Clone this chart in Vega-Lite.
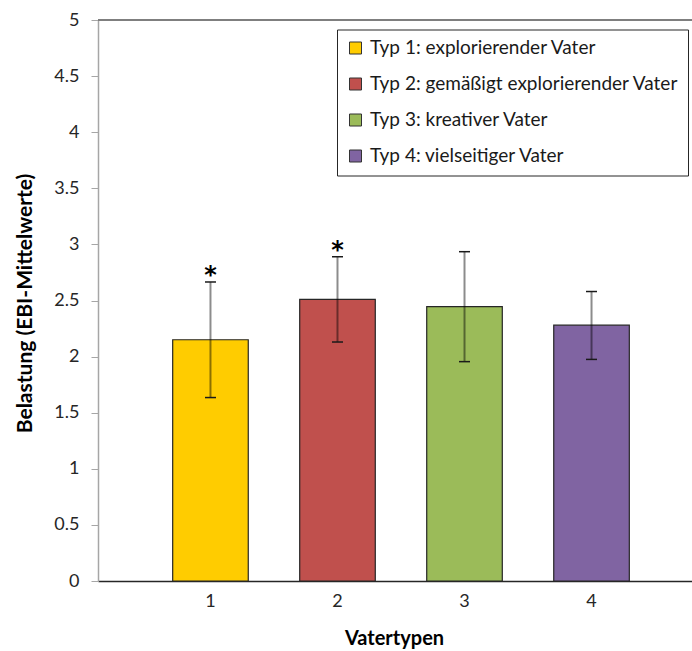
{
  "$schema": "https://vega.github.io/schema/vega-lite/v6.json",
  "width": 594,
  "height": 561,
  "autosize": {"type": "none"},
  "padding": {"left": 98, "top": 20, "right": 0, "bottom": 70},
  "background": "white",
  "config": {
    "view": {"stroke": null},
    "font": "Lato"
  },
  "data": {
    "values": [
      {"typ": "1", "label": "Typ 1: explorierender Vater", "mean": 2.15, "lower": 1.635, "upper": 2.665, "sig": "*"},
      {"typ": "2", "label": "Typ 2: gemäßigt explorierender Vater", "mean": 2.51, "lower": 2.13, "upper": 2.89, "sig": "*"},
      {"typ": "3", "label": "Typ 3: kreativer Vater", "mean": 2.445, "lower": 1.955, "upper": 2.935, "sig": ""},
      {"typ": "4", "label": "Typ 4: vielseitiger Vater", "mean": 2.28, "lower": 1.975, "upper": 2.58, "sig": ""}
    ]
  },
  "layer": [
    {
      "mark": {"type": "rule", "color": "#7f7f7f", "strokeWidth": 1.5},
      "encoding": {"y": {"datum": 5, "type": "quantitative"}}
    },
    {
      "mark": {"type": "bar", "stroke": "#262626", "strokeWidth": 1.2},
      "encoding": {
        "x": {
          "field": "typ",
          "type": "nominal",
          "scale": {"range": [0, 606], "paddingInner": 0.405, "paddingOuter": 0.588},
          "axis": {
            "title": "Vatertypen",
            "titleFontSize": 20,
            "titleFontWeight": "bold",
            "titleColor": "#000000",
            "titleX": 296,
            "titleY": 57,
            "titleBaseline": "middle",
            "labelAngle": 0,
            "labelFontSize": 18,
            "labelColor": "#262626",
            "labelPadding": 11,
            "ticks": false,
            "domainColor": "#262626",
            "domainWidth": 1.5
          }
        },
        "y": {
          "field": "mean",
          "type": "quantitative",
          "scale": {"domain": [0, 5], "nice": false},
          "axis": {
            "title": "Belastung (EBI-Mittelwerte)",
            "titleFontSize": 21,
            "titleFontWeight": "bold",
            "titleColor": "#000000",
            "titleX": -73,
            "titleY": 283,
            "titleAngle": -90,
            "titleAlign": "center",
            "titleBaseline": "middle",
            "values": [0, 0.5, 1, 1.5, 2, 2.5, 3, 3.5, 4, 4.5, 5],
            "format": "~g",
            "grid": false,
            "labelFontSize": 18,
            "labelColor": "#262626",
            "labelPadding": 12,
            "tickSize": 7,
            "tickColor": "#a6a6a6",
            "domainColor": "#a6a6a6",
            "domainWidth": 1.5
          }
        },
        "fill": {
          "field": "label",
          "type": "nominal",
          "scale": {
            "domain": ["Typ 1: explorierender Vater", "Typ 2: gemäßigt explorierender Vater", "Typ 3: kreativer Vater", "Typ 4: vielseitiger Vater"],
            "range": ["#ffcc00", "#c0504d", "#9bbb59", "#8064a2"]
          },
          "legend": {
            "title": null,
            "orient": "none",
            "legendX": 239,
            "legendY": 9.5,
            "strokeColor": "#262626",
            "fillColor": "#ffffff",
            "padding": 9,
            "cornerRadius": 0,
            "symbolType": "square",
            "symbolSize": 144,
            "symbolStrokeColor": "#333333",
            "symbolStrokeWidth": 1,
            "symbolOpacity": 1,
            "labelFontSize": 19,
            "labelColor": "#1a1a1a",
            "labelOffset": 5,
            "rowPadding": 16,
            "labelLimit": 400
          }
        }
      }
    },
    {
      "mark": {"type": "rule", "color": "#000000", "opacity": 0.45, "strokeWidth": 2},
      "encoding": {
        "x": {"field": "typ", "type": "nominal"},
        "y": {"field": "lower", "type": "quantitative"},
        "y2": {"field": "upper"}
      }
    },
    {
      "mark": {"type": "tick", "color": "#1a1a1a", "thickness": 1.5, "size": 11, "opacity": 1},
      "encoding": {
        "x": {"field": "typ", "type": "nominal"},
        "y": {"field": "upper", "type": "quantitative"}
      }
    },
    {
      "mark": {"type": "tick", "color": "#1a1a1a", "thickness": 1.5, "size": 11, "opacity": 1},
      "encoding": {
        "x": {"field": "typ", "type": "nominal"},
        "y": {"field": "lower", "type": "quantitative"}
      }
    },
    {
      "mark": {"type": "text", "fontSize": 24, "fontWeight": "bold", "color": "#000000", "baseline": "alphabetic", "dy": 1, "font": "DejaVu Sans"},
      "encoding": {
        "x": {"field": "typ", "type": "nominal"},
        "y": {"field": "upper", "type": "quantitative"},
        "text": {"field": "sig"}
      }
    }
  ]
}
